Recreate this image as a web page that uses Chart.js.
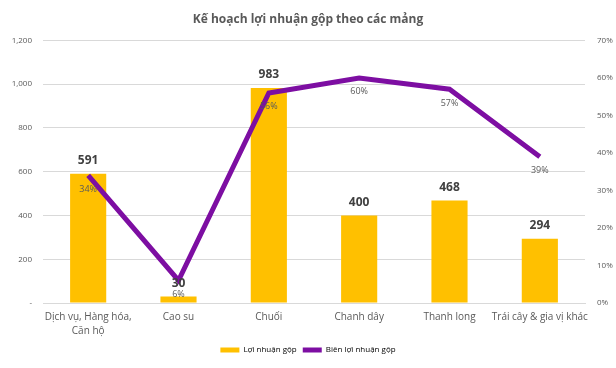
<!DOCTYPE html>
<html>
<head>
<meta charset="utf-8">
<script src="https://cdn.jsdelivr.net/npm/chart.js@4"></script>
<style>
  html, body { margin: 0; padding: 0; background: #fff; }
  #wrap { width: 616px; height: 368px; }
</style>
</head>
<body>
<div id="wrap"><canvas id="c" width="616" height="368"></canvas></div>
<script>
const categories = [["Dịch vụ, Hàng hóa,", "Căn hộ"], "Cao su", "Chuối", "Chanh dây", "Thanh long", "Trái cây & gia vị khác"];
const loiNhuan = [591, 30, 983, 400, 468, 294];   // Lợi nhuận gộp
const bienLN = [34, 6, 56, 60, 57, 39];           // Biên lợi nhuận gộp (%)

const vang = '#FFC000';
const tim = '#7D0EA2';

// nhãn giá trị cho cột và đường
const nhanGiaTri = {
    id: 'nhanGiaTri',
    afterDatasetsDraw(chart) {
        const ctx = chart.ctx;
        ctx.save();
        ctx.textAlign = 'center';
        ctx.textBaseline = 'middle';
        // nhãn đường (dưới điểm)
        chart.getDatasetMeta(1).data.forEach((p, i) => {
            ctx.font = '9px "Open Sans", sans-serif';
            ctx.fillStyle = '#595959';
            ctx.fillText(bienLN[i] + '%', p.x, p.y + 14);
        });
        // nhãn cột (trên cột)
        chart.getDatasetMeta(0).data.forEach((b, i) => {
            ctx.font = 'bold 12px "Open Sans", sans-serif';
            ctx.fillStyle = '#404040';
            ctx.fillText(loiNhuan[i], b.x, b.y - 13);
        });
        ctx.restore();
    }
};

new Chart(document.getElementById('c'), {
    type: 'bar',
    data: {
        labels: categories,
        datasets: [{
            label: 'Lợi nhuận gộp',
            data: loiNhuan,
            backgroundColor: vang,
            borderWidth: 0,
            categoryPercentage: 0.8,
            barPercentage: 0.5,
            yAxisID: 'y',
            order: 2
        }, {
            type: 'line',
            label: 'Biên lợi nhuận gộp',
            data: bienLN,
            borderColor: tim,
            backgroundColor: tim,
            borderWidth: 5,
            pointRadius: 0,
            tension: 0,
            yAxisID: 'y1',
            order: 1
        }]
    },
    options: {
        responsive: false,
        animation: false,
        layout: { padding: { left: 0, right: 0, top: 0, bottom: 4 } },
        plugins: {
            title: {
                display: true,
                text: 'Kế hoạch lợi nhuận gộp theo các mảng',
                color: '#595959',
                font: { family: '"Open Sans", sans-serif', size: 12, weight: 'bold' },
                padding: { top: 12, bottom: 14 }
            },
            legend: {
                position: 'bottom',
                labels: {
                    color: '#595959',
                    font: { family: '"Open Sans", sans-serif', size: 8 },
                    boxWidth: 19,
                    boxHeight: 5,
                    padding: 6,
                    generateLabels: (chart) => [
                        { text: 'Lợi nhuận gộp', fillStyle: vang, strokeStyle: vang, lineWidth: 0, datasetIndex: 0 },
                        { text: 'Biên lợi nhuận gộp', fillStyle: tim, strokeStyle: tim, lineWidth: 0, datasetIndex: 1 }
                    ]
                }
            },
            tooltip: { enabled: false }
        },
        scales: {
            x: {
                grid: { display: false, drawTicks: false },
                border: { display: true, color: '#d9d9d9' },
                ticks: {
                    color: '#595959',
                    font: { family: '"Open Sans", sans-serif', size: 10, lineHeight: 1.4 },
                    maxRotation: 0,
                    autoSkip: false,
                    padding: 7
                },
                afterFit: (s) => { s.height = 37; }
            },
            y: {
                position: 'left',
                min: 0,
                max: 1200,
                grid: { color: '#d9d9d9', drawTicks: false },
                border: { display: false },
                ticks: {
                    stepSize: 200,
                    color: '#595959',
                    font: { family: '"Open Sans", sans-serif', size: 8 },
                    padding: 11,
                    callback: (v) => v === 0 ? '-' : v.toLocaleString('en-US')
                },
                afterFit: (s) => { s.width = 43; }
            },
            y1: {
                position: 'right',
                min: 0,
                max: 70,
                grid: { display: false },
                border: { display: false },
                ticks: {
                    stepSize: 10,
                    color: '#595959',
                    font: { family: '"Open Sans", sans-serif', size: 8 },
                    padding: 4,
                    callback: (v) => v + '%'
                },
                afterFit: (s) => { s.width = 31; }
            }
        }
    },
    plugins: [nhanGiaTri]
});
</script>
</body>
</html>
